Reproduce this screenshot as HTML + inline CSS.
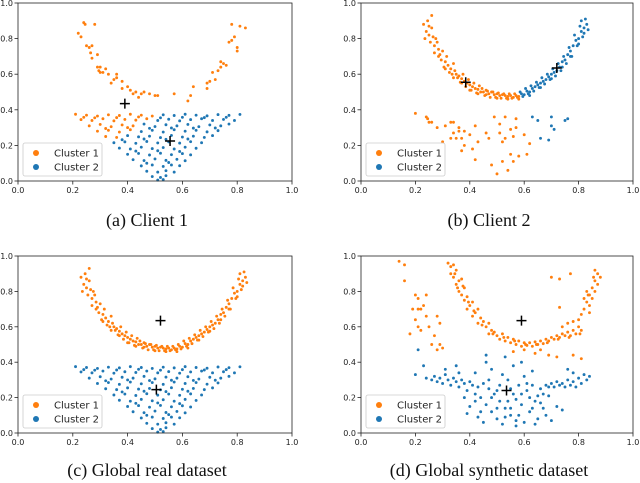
<!DOCTYPE html>
<html><head><meta charset="utf-8"><style>
body{margin:0;background:#fff}
svg{display:block}
text{font-family:"DejaVu Sans","Liberation Sans",sans-serif}
.cap{font-family:"Liberation Serif",serif;font-size:18px}
</style></head><body>
<svg id="fig" width="640" height="483" viewBox="0 0 640 483" xmlns="http://www.w3.org/2000/svg"></svg>
<script>
const xTicks = [0.0, 0.2, 0.4, 0.6, 0.8, 1.0];
const yTicks = [0.0, 0.2, 0.4, 0.6, 0.8, 1.0];
const tickLabels = ["0.0","0.2","0.4","0.6","0.8","1.0"];
const legendLabels = ["Cluster 1","Cluster 2"];
const captions = ["(a) Client 1","(b) Client 2","(c) Global real dataset","(d) Global synthetic dataset"];
const moonPts = [0.23,0.88,0.24,0.84,0.235,0.80,0.245,0.90,0.25,0.82,0.255,0.78,0.26,0.86,0.26,0.93,0.27,0.76,0.275,0.80,0.27,0.72,0.28,0.78,0.29,0.71,0.285,0.74,0.295,0.68,0.30,0.73,0.31,0.67,0.305,0.64,0.315,0.70,0.32,0.65,0.33,0.63,0.335,0.60,0.325,0.61,0.34,0.66,0.35,0.60,0.355,0.58,0.345,0.62,0.36,0.59,0.37,0.575,0.365,0.555,0.375,0.60,0.38,0.56,0.39,0.55,0.385,0.53,0.395,0.57,0.40,0.54,0.41,0.53,0.405,0.51,0.415,0.55,0.42,0.52,0.43,0.515,0.425,0.495,0.435,0.535,0.44,0.50,0.45,0.50,0.455,0.48,0.445,0.52,0.46,0.51,0.47,0.49,0.475,0.47,0.465,0.505,0.48,0.50,0.49,0.485,0.495,0.47,0.485,0.50,0.50,0.49,0.51,0.48,0.515,0.465,0.505,0.495,0.52,0.485,0.53,0.48,0.535,0.465,0.525,0.49,0.54,0.475,0.55,0.48,0.555,0.465,0.545,0.49,0.56,0.47,0.57,0.48,0.575,0.47,0.565,0.49,0.58,0.475,0.59,0.49,0.595,0.475,0.585,0.50,0.60,0.485,0.61,0.505,0.615,0.49,0.605,0.52,0.62,0.50,0.63,0.52,0.635,0.505,0.625,0.535,0.64,0.53,0.65,0.54,0.655,0.525,0.645,0.555,0.66,0.55,0.67,0.56,0.675,0.545,0.665,0.58,0.68,0.57,0.69,0.585,0.695,0.57,0.685,0.60,0.70,0.60,0.71,0.61,0.715,0.59,0.705,0.63,0.72,0.62,0.73,0.64,0.735,0.62,0.725,0.66,0.74,0.67,0.75,0.68,0.755,0.66,0.745,0.70,0.76,0.71,0.77,0.73,0.775,0.70,0.765,0.75,0.78,0.76,0.79,0.79,0.795,0.76,0.785,0.82,0.80,0.80,0.81,0.84,0.815,0.81,0.805,0.87,0.82,0.86,0.83,0.88,0.825,0.91,0.835,0.85,0.81,0.90,0.25,0.87,0.265,0.81,0.285,0.70,0.31,0.63,0.34,0.58,0.37,0.55,0.40,0.51,0.43,0.49,0.46,0.485,0.50,0.465,0.54,0.46,0.58,0.46,0.62,0.48,0.66,0.525,0.70,0.575,0.74,0.64,0.77,0.70,0.80,0.77,0.82,0.83];
const triPts = [0.21,0.375,0.25,0.37,0.29,0.365,0.33,0.372,0.37,0.368,0.41,0.375,0.45,0.37,0.49,0.365,0.53,0.372,0.57,0.368,0.61,0.375,0.65,0.37,0.69,0.366,0.73,0.373,0.77,0.369,0.81,0.374,0.23,0.345,0.27,0.34,0.31,0.35,0.35,0.338,0.39,0.346,0.43,0.342,0.47,0.35,0.51,0.34,0.55,0.347,0.59,0.338,0.63,0.345,0.67,0.35,0.71,0.34,0.75,0.346,0.79,0.34,0.26,0.31,0.30,0.318,0.34,0.305,0.38,0.315,0.42,0.31,0.46,0.32,0.50,0.306,0.54,0.316,0.58,0.31,0.62,0.318,0.66,0.305,0.70,0.315,0.74,0.31,0.77,0.32,0.29,0.28,0.33,0.285,0.37,0.275,0.41,0.288,0.45,0.278,0.49,0.285,0.53,0.275,0.57,0.288,0.61,0.28,0.65,0.285,0.69,0.276,0.73,0.283,0.32,0.25,0.36,0.245,0.40,0.255,0.44,0.248,0.48,0.252,0.52,0.244,0.56,0.256,0.60,0.247,0.64,0.252,0.68,0.245,0.71,0.255,0.35,0.215,0.39,0.22,0.43,0.212,0.47,0.222,0.51,0.214,0.55,0.22,0.59,0.213,0.63,0.221,0.67,0.215,0.37,0.185,0.41,0.18,0.45,0.19,0.49,0.182,0.53,0.188,0.57,0.18,0.61,0.19,0.65,0.184,0.40,0.15,0.44,0.155,0.48,0.146,0.52,0.156,0.56,0.148,0.60,0.154,0.63,0.147,0.42,0.12,0.46,0.115,0.50,0.124,0.54,0.116,0.58,0.122,0.61,0.114,0.45,0.085,0.49,0.09,0.53,0.082,0.56,0.09,0.59,0.086,0.47,0.055,0.51,0.05,0.54,0.058,0.57,0.05,0.49,0.025,0.52,0.02,0.54,0.03,0.51,0.005,0.53,0.008,0.24,0.358,0.28,0.355,0.36,0.356,0.44,0.36,0.52,0.355,0.60,0.358,0.68,0.356,0.76,0.358,0.32,0.295,0.40,0.3,0.48,0.296,0.56,0.298,0.64,0.297,0.72,0.298,0.38,0.232,0.46,0.236,0.54,0.234,0.62,0.236,0.43,0.168,0.51,0.17,0.59,0.166,0.47,0.1,0.55,0.104];
const aArc = [0.22,0.83,0.24,0.89,0.245,0.88,0.23,0.81,0.25,0.76,0.26,0.75,0.265,0.72,0.27,0.76,0.27,0.69,0.28,0.88,0.29,0.64,0.29,0.71,0.295,0.62,0.30,0.64,0.30,0.61,0.31,0.61,0.32,0.63,0.33,0.60,0.34,0.55,0.35,0.57,0.36,0.58,0.36,0.60,0.38,0.56,0.38,0.52,0.40,0.53,0.41,0.51,0.42,0.49,0.43,0.50,0.44,0.47,0.45,0.49,0.46,0.50,0.48,0.49,0.50,0.48,0.51,0.48,0.57,0.49,0.62,0.45,0.63,0.48,0.64,0.53,0.69,0.52,0.69,0.55,0.70,0.56,0.71,0.61,0.72,0.57,0.73,0.62,0.74,0.64,0.74,0.67,0.75,0.66,0.76,0.65,0.77,0.78,0.78,0.79,0.78,0.88,0.79,0.81,0.80,0.75,0.80,0.73,0.81,0.87,0.83,0.86];
const bLowOrange = [0.20,0.38,0.24,0.36,0.245,0.35,0.25,0.33,0.26,0.33,0.28,0.30,0.31,0.31,0.30,0.22,0.33,0.33,0.34,0.33,0.36,0.30,0.34,0.27,0.33,0.24,0.35,0.24,0.36,0.28,0.37,0.24,0.37,0.17,0.38,0.28,0.38,0.20,0.40,0.26,0.41,0.18,0.42,0.31,0.42,0.12,0.43,0.22,0.46,0.27,0.48,0.09,0.49,0.36,0.50,0.04,0.51,0.32,0.51,0.27,0.52,0.11,0.53,0.36,0.53,0.24,0.54,0.06,0.55,0.29,0.55,0.15,0.56,0.25,0.56,0.11,0.57,0.35,0.57,0.30,0.58,0.14,0.60,0.26,0.61,0.15,0.62,0.21,0.47,0.24,0.52,0.22];
const bLowBlue = [0.63,0.36,0.65,0.34,0.66,0.24,0.69,0.23,0.70,0.36,0.70,0.31,0.71,0.29,0.75,0.34,0.76,0.35];
const dOrange = [0.32,0.96,0.33,0.94,0.34,0.95,0.33,0.90,0.34,0.88,0.35,0.92,0.36,0.86,0.35,0.84,0.37,0.87,0.36,0.80,0.37,0.78,0.38,0.82,0.38,0.75,0.39,0.77,0.40,0.72,0.39,0.70,0.41,0.74,0.42,0.68,0.41,0.66,0.43,0.70,0.44,0.65,0.43,0.62,0.45,0.63,0.46,0.60,0.47,0.62,0.48,0.58,0.47,0.56,0.49,0.57,0.50,0.55,0.51,0.53,0.52,0.56,0.53,0.52,0.54,0.54,0.55,0.51,0.56,0.53,0.57,0.50,0.58,0.52,0.59,0.49,0.60,0.51,0.61,0.495,0.62,0.51,0.63,0.49,0.64,0.515,0.65,0.50,0.66,0.52,0.67,0.505,0.68,0.53,0.69,0.52,0.70,0.54,0.71,0.53,0.72,0.55,0.73,0.54,0.74,0.56,0.75,0.55,0.76,0.57,0.77,0.55,0.78,0.58,0.79,0.56,0.80,0.60,0.81,0.58,0.80,0.64,0.81,0.67,0.82,0.70,0.83,0.74,0.84,0.72,0.84,0.78,0.85,0.76,0.85,0.82,0.86,0.80,0.86,0.86,0.87,0.84,0.87,0.90,0.88,0.88,0.86,0.92,0.83,0.80,0.82,0.76,0.84,0.68,0.78,0.63,0.76,0.62,0.74,0.60,0.56,0.46,0.60,0.47,0.64,0.45,0.69,0.44,0.72,0.43,0.81,0.42,0.78,0.44,0.70,0.88,0.73,0.87,0.77,0.90,0.73,0.71,0.66,0.47,0.345,0.90,0.355,0.82,0.375,0.83,0.395,0.74,0.415,0.69,0.445,0.61,0.485,0.56,0.525,0.54,0.565,0.52,0.605,0.50,0.645,0.50,0.685,0.51,0.725,0.53,0.765,0.54,0.805,0.56,0.835,0.78,0.855,0.88];
const dOrangeScatter = [0.14,0.97,0.16,0.95,0.16,0.86,0.19,0.70,0.18,0.56,0.20,0.64,0.21,0.60,0.20,0.78,0.21,0.76,0.22,0.70,0.23,0.72,0.22,0.58,0.24,0.78,0.24,0.66,0.25,0.60,0.26,0.50,0.27,0.55,0.28,0.66,0.29,0.62,0.29,0.50,0.30,0.48,0.28,0.47,0.21,0.70];
const dBlue = [0.21,0.47,0.20,0.33,0.23,0.38,0.24,0.31,0.26,0.30,0.27,0.32,0.28,0.29,0.29,0.31,0.30,0.28,0.31,0.33,0.32,0.30,0.33,0.27,0.34,0.31,0.35,0.29,0.36,0.26,0.37,0.30,0.38,0.28,0.39,0.24,0.40,0.29,0.41,0.27,0.42,0.22,0.43,0.26,0.44,0.20,0.45,0.28,0.46,0.16,0.47,0.25,0.48,0.12,0.49,0.22,0.50,0.08,0.51,0.18,0.52,0.05,0.53,0.14,0.54,0.30,0.55,0.10,0.56,0.22,0.57,0.07,0.58,0.27,0.59,0.16,0.60,0.06,0.61,0.24,0.62,0.12,0.63,0.27,0.64,0.18,0.65,0.08,0.66,0.25,0.67,0.14,0.68,0.27,0.69,0.21,0.70,0.28,0.71,0.26,0.72,0.29,0.73,0.27,0.74,0.28,0.75,0.26,0.76,0.30,0.77,0.27,0.78,0.29,0.79,0.26,0.80,0.31,0.81,0.28,0.82,0.33,0.83,0.30,0.84,0.32,0.38,0.20,0.40,0.15,0.42,0.34,0.44,0.12,0.46,0.40,0.48,0.36,0.50,0.14,0.52,0.33,0.54,0.18,0.56,0.38,0.58,0.10,0.60,0.32,0.62,0.20,0.64,0.05,0.66,0.17,0.68,0.10,0.70,0.07,0.72,0.15,0.74,0.13,0.76,0.36,0.78,0.34,0.35,0.38,0.46,0.44,0.53,0.43,0.59,0.40,0.63,0.35,0.45,0.06,0.57,0.04,0.36,0.34,0.39,0.11,0.43,0.09,0.61,0.28,0.67,0.22,0.47,0.30,0.51,0.27,0.55,0.25,0.31,0.36,0.42,0.18,0.48,0.20,0.50,0.24,0.57,0.19,0.59,0.22,0.63,0.14,0.65,0.21,0.69,0.26,0.55,0.14,0.53,0.09];
const centroidsA = [0.39,0.435,0.555,0.225];
const centroidsB = [0.385,0.555,0.72,0.635];
const centroidsC = [0.52,0.635,0.505,0.245];
const centroidsD = [0.59,0.635,0.535,0.24];

const NS = "http://www.w3.org/2000/svg";
const svg = document.getElementById('fig');
const ORANGE = "#ff7f0e", BLUE = "#1f77b4";
function mk(tag, attrs, parent){ const e=document.createElementNS(NS,tag); for(const k in attrs) e.setAttribute(k,attrs[k]); (parent||svg).appendChild(e); return e; }

function panel(x0,x1,y0,y1,key,capY){
  const g = mk('g',{});
  
  
  const sx = v => x0 + v*(x1-x0);
  const sy = v => y1 - v*(y1-y0);
  const pts = mk('g',{},g);
  
  
  const api = {
    sx, sy,
    dots(arr, colorFn){
      for(let i=0;i<arr.length;i+=2){
        const c = mk('circle',{cx:sx(arr[i]),cy:sy(arr[i+1]),r:1.45,fill:colorFn(arr[i],arr[i+1])},pts);
        
        
      }
    },
    cent(arr){
      for(let i=0;i<arr.length;i+=2){
        const x=sx(arr[i]), y=sy(arr[i+1]);
        const p = mk('path',{d:`M${x-5} ${y}H${x+5}M${x} ${y-5}V${y+5}`,stroke:'#000','stroke-width':1.5},g);
        
        
      }
    },
    finish(){
      const f = mk('rect',{x:x0,y:y0,width:x1-x0,height:y1-y0,fill:'none',stroke:'#222','stroke-width':0.8},g);
      
      
      xTicks.forEach((t,i)=>{
        const x=sx(t);
        mk('line',{x1:x,x2:x,y1:y1,y2:y1+3.5,stroke:'#222','stroke-width':0.8},g);
        const tx = mk('text',{x:x,y:y1+12,'font-size':8,'text-anchor':'middle',fill:'#222'},g);
        tx.textContent = tickLabels[i];
        
        
      });
      yTicks.forEach((t,i)=>{
        const y=sy(t);
        mk('line',{x1:x0-3.5,x2:x0,y1:y,y2:y,stroke:'#222','stroke-width':0.8},g);
        const tx = mk('text',{x:x0-5,y:y+3,'font-size':8,'text-anchor':'end',fill:'#222'},g);
        tx.textContent = tickLabels[i];
        
        
      });
      const lg = mk('g',{},g);
      
      
      mk('rect',{x:x0+5,y:y1-38,width:79,height:33,rx:2,fill:'#fff','fill-opacity':0.85,stroke:'#ccc','stroke-width':0.8},lg);
      [ORANGE,BLUE].forEach((col,i)=>{
        const yy = y1-28+i*14;
        mk('circle',{cx:x0+18,cy:yy,r:3,fill:col},lg);
        const t = mk('text',{x:x0+36,y:yy+3.5,'font-size':10,fill:'#222'},lg);
        t.textContent = legendLabels[i];
        
        
      });
      const cap = mk('text',{x:(x0+x1)/2-8,y:capY,'text-anchor':'middle',class:'cap',fill:'#111'},g);
      cap.textContent = captions[key.charCodeAt(0)-97];
      
      
    }
  };
  return api;
}

const pa = panel(18,292,3,181,'a',226);
pa.dots(aArc, ()=>ORANGE);
pa.dots(triPts, (x,y)=> (y>0.22 && x < 0.36+(y-0.22)*0.9) ? ORANGE : BLUE);
pa.cent(centroidsA);
pa.finish();
const pb = panel(361,633,3,181,'b',226);
pb.dots(moonPts, (x)=> x<0.585 ? ORANGE : BLUE);
pb.dots(bLowOrange, ()=>ORANGE);
pb.dots(bLowBlue, ()=>BLUE);
pb.cent(centroidsB);
pb.finish();
const pc = panel(18,292,256,433,'c',476);
pc.dots(moonPts, ()=>ORANGE);
pc.dots(triPts, ()=>BLUE);
pc.cent(centroidsC);
pc.finish();
const pd = panel(361,633,256,433,'d',476);
pd.dots(dOrange, ()=>ORANGE);
pd.dots(dOrangeScatter, ()=>ORANGE);
pd.dots(dBlue, ()=>BLUE);
pd.cent(centroidsD);
pd.finish();
</script>
</body></html>
